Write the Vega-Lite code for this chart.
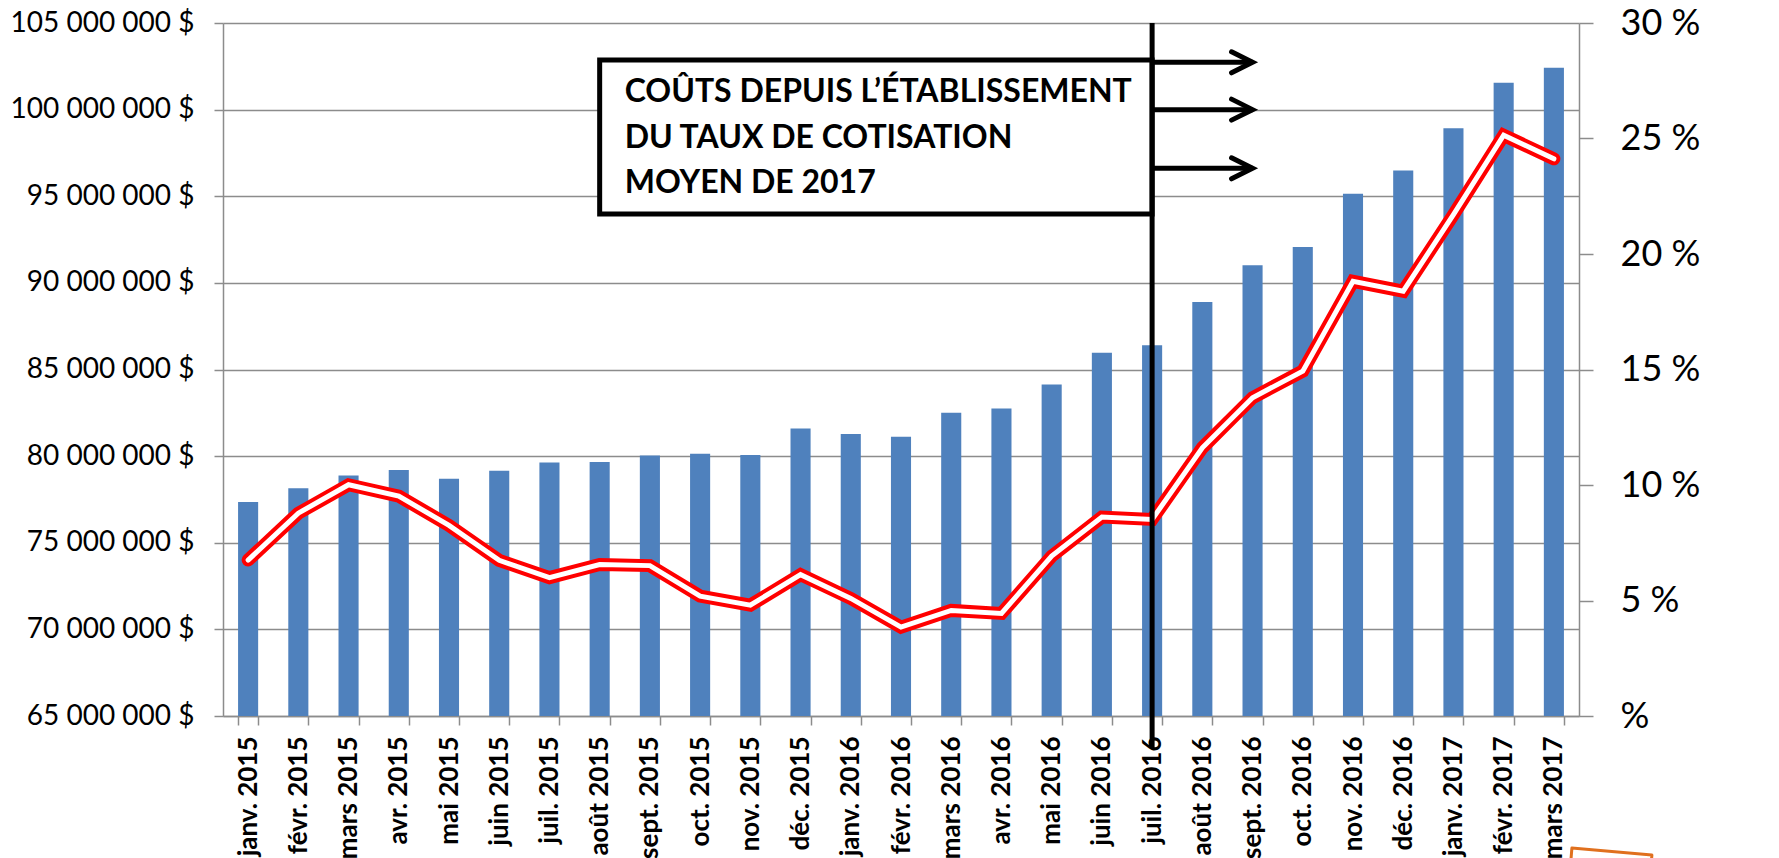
{
  "$schema": "https://vega.github.io/schema/vega-lite/v6.json",
  "width": 1356,
  "height": 693,
  "autosize": {"type": "none"},
  "padding": {"left": 223, "top": 23, "right": 200, "bottom": 142},
  "background": "white",
  "config": {
    "view": {"stroke": null},
    "font": "Lato",
    "axis": {
      "domainColor": "#8c8c8c", "tickColor": "#8c8c8c", "gridColor": "#8c8c8c",
      "domainWidth": 1.5, "tickWidth": 1.5, "gridWidth": 1.5,
      "labelColor": "black", "labelFont": "Lato", "labelOverlap": false, "labelBound": false, "labelLimit": 0
    }
  },
  "datasets": {
    "main": [
      {"m": "janv. 2015", "v": 77350000, "p": 0.0675},
      {"m": "févr. 2015", "v": 78150000, "p": 0.0878},
      {"m": "mars 2015", "v": 78880000, "p": 0.1001},
      {"m": "avr. 2015", "v": 79200000, "p": 0.0952},
      {"m": "mai 2015", "v": 78700000, "p": 0.0825},
      {"m": "juin 2015", "v": 79150000, "p": 0.0674},
      {"m": "juil. 2015", "v": 79630000, "p": 0.0599},
      {"m": "août 2015", "v": 79660000, "p": 0.0656},
      {"m": "sept. 2015", "v": 80040000, "p": 0.0651},
      {"m": "oct. 2015", "v": 80130000, "p": 0.0519},
      {"m": "nov. 2015", "v": 80070000, "p": 0.0480},
      {"m": "déc. 2015", "v": 81600000, "p": 0.0612},
      {"m": "janv. 2016", "v": 81270000, "p": 0.0509},
      {"m": "févr. 2016", "v": 81120000, "p": 0.0385},
      {"m": "mars 2016", "v": 82500000, "p": 0.0457},
      {"m": "avr. 2016", "v": 82750000, "p": 0.0444},
      {"m": "mai 2016", "v": 84130000, "p": 0.0692},
      {"m": "juin 2016", "v": 85970000, "p": 0.0861},
      {"m": "juil. 2016", "v": 86400000, "p": 0.0851},
      {"m": "août 2016", "v": 88900000, "p": 0.1161},
      {"m": "sept. 2016", "v": 91020000, "p": 0.1378},
      {"m": "oct. 2016", "v": 92070000, "p": 0.1493},
      {"m": "nov. 2016", "v": 95150000, "p": 0.1882},
      {"m": "déc. 2016", "v": 96480000, "p": 0.1839},
      {"m": "janv. 2017", "v": 98930000, "p": 0.2170},
      {"m": "févr. 2017", "v": 101550000, "p": 0.2514},
      {"m": "mars 2017", "v": 102420000, "p": 0.2412}
    ],
    "box": [{"m": "août 2015", "m2": "juil. 2016", "v": 102860000, "v2": 93980000}],
    "txt": [
      {"m": "août 2015", "v": 100440000, "t": "COÛTS DEPUIS L’ÉTABLISSEMENT"},
      {"m": "août 2015", "v": 97810000, "t": "DU TAUX DE COTISATION"},
      {"m": "août 2015", "v": 95190000, "t": "MOYEN DE 2017"}
    ],
    "vline": [{"m": "juil. 2016", "v": 105000000, "v2": 63150000}],
    "arrows": [
      {"m": "juil. 2016", "m2": "sept. 2016", "v": 102730000},
      {"m": "juil. 2016", "m2": "sept. 2016", "v": 100000000},
      {"m": "juil. 2016", "m2": "sept. 2016", "v": 96610000}
    ],
    "heads": [
      {"m": "sept. 2016", "v": 102730000},
      {"m": "sept. 2016", "v": 100000000},
      {"m": "sept. 2016", "v": 96610000}
    ],
    "orange": [{"m": "mars 2017", "v": 56800000}]
  },
  "encoding": {
    "x": {
      "field": "m", "type": "ordinal",
      "scale": {
        "domain": ["janv. 2015","févr. 2015","mars 2015","avr. 2015","mai 2015","juin 2015","juil. 2015","août 2015","sept. 2015","oct. 2015","nov. 2015","déc. 2015","janv. 2016","févr. 2016","mars 2016","avr. 2016","mai 2016","juin 2016","juil. 2016","août 2016","sept. 2016","oct. 2016","nov. 2016","déc. 2016","janv. 2017","févr. 2017","mars 2017"],
        "paddingInner": 0.6, "paddingOuter": 0.3
      },
      "axis": {
        "title": null, "labelAngle": -90, "labelFontSize": 26, "labelFontWeight": "bold",
        "tickBand": "extent", "tickSize": 9, "labelPadding": 11, "grid": false
      }
    }
  },
  "layer": [
    {
      "data": {"name": "main"},
      "mark": {"type": "bar", "color": "#4F81BD"},
      "encoding": {
        "y": {
          "field": "v", "type": "quantitative",
          "scale": {"domain": [65000000, 105000000], "nice": false, "zero": false},
          "axis": {
            "title": null, "orient": "left", "grid": true,
            "values": [65000000,70000000,75000000,80000000,85000000,90000000,95000000,100000000,105000000],
            "labelExpr": "format(datum.value/1000000, 'd') + ' 000 000 $'",
            "labelFontSize": 28, "tickSize": 9, "labelPadding": 20
          }
        },
        "y2": {"datum": 65000000}
      }
    },
    {
      "data": {"name": "main"},
      "encoding": {
        "y": {
          "field": "p", "type": "quantitative",
          "scale": {"domain": [0, 0.3], "nice": false},
          "axis": {
            "title": null, "orient": "right", "grid": false,
            "values": [0, 0.05, 0.1, 0.15, 0.2, 0.25, 0.3],
            "labelExpr": "datum.value == 0 ? '\u00a0%' : format(datum.value*100, '.0f') + ' %'",
            "labelFontSize": 36, "tickSize": 14, "labelPadding": 27
          }
        }
      },
      "layer": [
        {"mark": {"type": "line", "color": "#FF0000", "strokeWidth": 13, "strokeCap": "round", "strokeJoin": "miter"}},
        {"mark": {"type": "line", "color": "#FFFFFF", "strokeWidth": 5, "strokeCap": "round", "strokeJoin": "miter"}}
      ]
    },
    {
      "encoding": {
        "y": {
          "field": "v", "type": "quantitative",
          "scale": {"domain": [65000000, 105000000], "nice": false, "zero": false},
          "axis": null
        }
      },
      "layer": [
        {
          "data": {"name": "box"},
          "mark": {"type": "rect", "fill": "white", "stroke": "black", "strokeWidth": 5},
          "encoding": {"x2": {"field": "m2"}, "y2": {"field": "v2"}}
        },
        {
          "data": {"name": "txt"},
          "mark": {"type": "text", "align": "left", "baseline": "alphabetic", "dx": 25, "font": "Lato", "fontWeight": "bold", "fontSize": 32, "color": "black"},
          "encoding": {"text": {"field": "t"}}
        },
        {
          "data": {"name": "vline"},
          "mark": {"type": "rule", "color": "black", "strokeWidth": 5},
          "encoding": {"y2": {"field": "v2"}}
        },
        {
          "data": {"name": "arrows"},
          "mark": {"type": "rule", "color": "black", "strokeWidth": 5},
          "encoding": {"x2": {"field": "m2"}}
        },
        {
          "data": {"name": "heads"},
          "mark": {"type": "point", "shape": "M -2 -1 L 0 0 L -2 1", "size": 441, "filled": false, "stroke": "black", "strokeWidth": 5, "strokeCap": "round", "strokeJoin": "miter", "opacity": 1}
        },
        {
          "data": {"name": "orange"},
          "mark": {"type": "point", "shape": "M 0.36 -0.2 L 1.96 -0.06 L 1.88 0.94 L 0.28 0.8 Z", "size": 10000, "filled": false, "stroke": "#E0701E", "strokeWidth": 3, "strokeJoin": "round", "opacity": 1}
        }
      ]
    }
  ],
  "resolve": {"scale": {"y": "independent"}}
}
